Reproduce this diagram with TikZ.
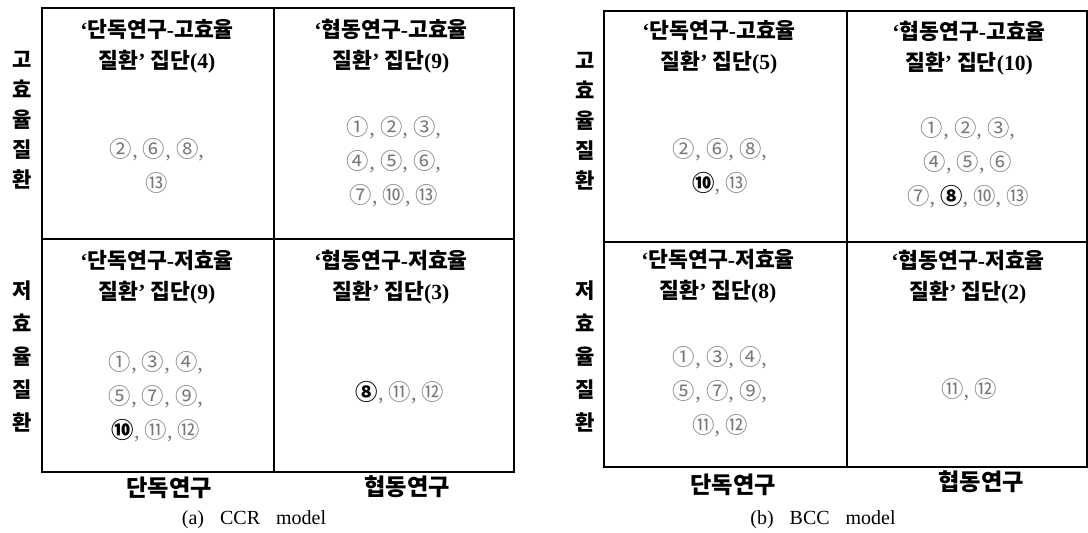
\documentclass[tikz,border=0pt]{standalone}
\usepackage{fontspec}
\setmainfont{Liberation Serif}
\newfontfamily\kr{Noto Sans CJK KR}
\definecolor{numgray}{RGB}{120,120,120}
\newcommand{\krlq}{{\rmfamily\bfseries ‘}}
\newcommand{\krrq}{{\rmfamily\bfseries ’}}
\newcommand{\krhy}{{\rmfamily\bfseries -}}
\newcommand{\krnum}[1]{{\rmfamily\bfseries #1}}
\newcommand{\krbold}[1]{{\bfseries\color{black}#1}}
\newcommand{\krc}{{\rmfamily,}}
\begin{document}
\begin{tikzpicture}[x=0.5pt,y=-0.5pt,
    box/.style={line width=1pt},
    hdr/.style={align=center,inner sep=0pt,font=\kr\bfseries\fontsize{10.8}{15.5}\selectfont},
    num/.style={align=center,inner sep=0pt,text=numgray,font=\kr\fontsize{11.2}{17}\selectfont},
    side/.style={align=center,inner sep=0pt,font=\kr\bfseries\fontsize{10.5}{#1}\selectfont},
    axis/.style={inner sep=0pt,font=\kr\bfseries\fontsize{11.6}{13}\selectfont},
    capt/.style={inner sep=0pt,font=\fontsize{10}{12}\selectfont}]
    \useasboundingbox (0,0) rectangle (1088,533);
    % (a) CCR model
    \draw[box] (42,8) rectangle (514,472);
    \draw[box] (274,8) -- (274,472);
    \draw[box] (42,239) -- (514,239);
    \node[hdr] (aHS) at (157,46) {\krlq 단독연구\krhy 고효율\\질환\krrq{} 집단\krnum{(4)}};
    \node[hdr] (aHC) at (391,46) {\krlq 협동연구\krhy 고효율\\질환\krrq{} 집단\krnum{(9)}};
    \node[hdr] (aLS) at (157,277) {\krlq 단독연구\krhy 저효율\\질환\krrq{} 집단\krnum{(9)}};
    \node[hdr] (aLC) at (391,277) {\krlq 협동연구\krhy 저효율\\질환\krrq{} 집단\krnum{(3)}};
    \node[num] (aHSn) at (157,166) {②\krc{} ⑥\krc{} ⑧\krc\\⑬};
    \node[num] (aHCn) at (394,162) {①\krc{} ②\krc{} ③\krc\\④\krc{} ⑤\krc{} ⑥\krc\\⑦\krc{} ⑩\krc{} ⑬};
    \node[num] (aLSn) at (156,397) {①\krc{} ③\krc{} ④\krc\\⑤\krc{} ⑦\krc{} ⑨\krc\\\krbold{⑩}\krc{} ⑪\krc{} ⑫};
    \node[num] (aLCn) at (400,393) {\krbold{⑧}\krc{} ⑪\krc{} ⑫};
    \node[side=15] (aHi) at (22,120) {고\\효\\율\\질\\환};
    \node[side=16.5] (aLo) at (22,356) {저\\효\\율\\질\\환};
    \node[axis] (aSolo) at (169,488) {단독연구};
    \node[axis] (aColl) at (407,487) {협동연구};
    \node[capt] (aCap) at (254,520) {(a)\hspace{0.8em}CCR\hspace{0.8em}model};
    % (b) BCC model
    \draw[box] (604,11) rectangle (1087,467);
    \draw[box] (847,11) -- (847,467);
    \draw[box] (604,242) -- (1087,242);
    \node[hdr] (bHS) at (719,47) {\krlq 단독연구\krhy 고효율\\질환\krrq{} 집단\krnum{(5)}};
    \node[hdr] (bHC) at (969,48) {\krlq 협동연구\krhy 고효율\\질환\krrq{} 집단\krnum{(10)}};
    \node[hdr] (bLS) at (718,276) {\krlq 단독연구\krhy 저효율\\질환\krrq{} 집단\krnum{(8)}};
    \node[hdr] (bLC) at (968,277) {\krlq 협동연구\krhy 저효율\\질환\krrq{} 집단\krnum{(2)}};
    \node[num] (bHSn) at (720,167) {②\krc{} ⑥\krc{} ⑧\krc\\\krbold{⑩}\krc{} ⑬};
    \node[num] (bHCn) at (968,163) {①\krc{} ②\krc{} ③\krc\\④\krc{} ⑤\krc{} ⑥\\⑦\krc{} \krbold{⑧}\krc{} ⑩\krc{} ⑬};
    \node[num] (bLSn) at (720,392) {①\krc{} ③\krc{} ④\krc\\⑤\krc{} ⑦\krc{} ⑨\krc\\⑪\krc{} ⑫};
    \node[num] (bLCn) at (969,390) {⑪\krc{} ⑫};
    \node[side=15] (bHi) at (585,121) {고\\효\\율\\질\\환};
    \node[side=16.5] (bLo) at (585,356) {저\\효\\율\\질\\환};
    \node[axis] (bSolo) at (733,485) {단독연구};
    \node[axis] (bColl) at (981,482) {협동연구};
    \node[capt] (bCap) at (823,520) {(b)\hspace{0.8em}BCC\hspace{0.8em}model};
\end{tikzpicture}
\end{document}
